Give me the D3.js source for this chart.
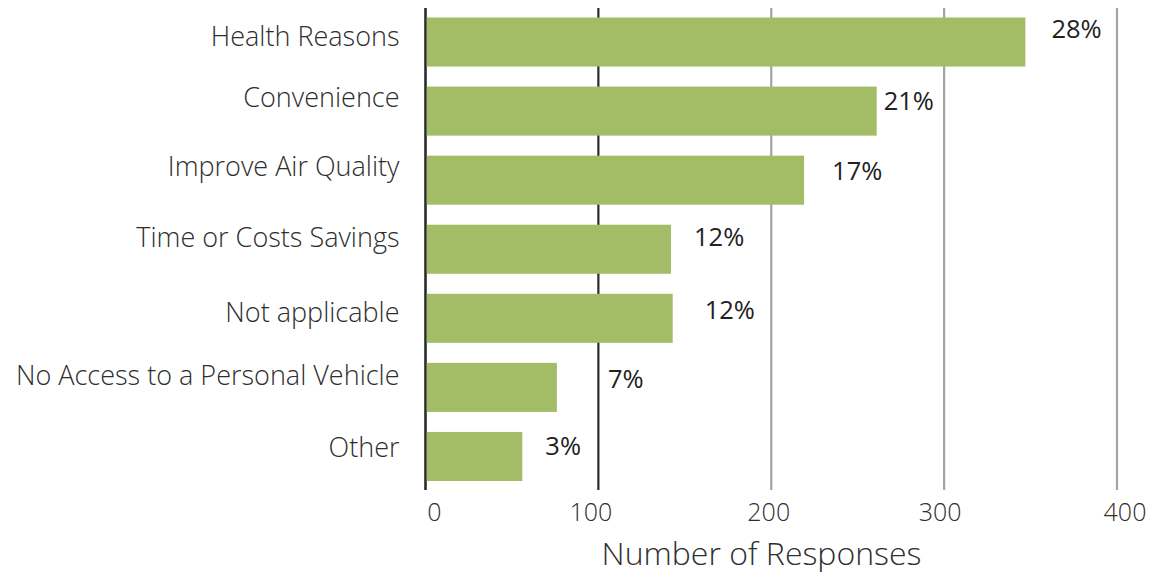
<!DOCTYPE html>
<html>
<head>
<meta charset="utf-8">
<script src="https://cdn.jsdelivr.net/npm/d3@7"></script>
<style>
  html, body { margin: 0; padding: 0; background: #fff; }
  svg { display: block; font-family: "Open Sans", Lato, sans-serif; }
</style>
</head>
<body>
<svg id="chart" width="1151" height="575"></svg>
<script>
// Reasons given, number of responses, and share of all responses
const categories = [
  "Health Reasons",
  "Convenience",
  "Improve Air Quality",
  "Time or Costs Savings",
  "Not applicable",
  "No Access to a Personal Vehicle",
  "Other"
];
const responses = [347, 261, 219, 142, 143, 76, 56];
const shares = ["28%", "21%", "17%", "12%", "12%", "7%", "3%"];
const xTicks = [0, 100, 200, 300, 400];
const xTitle = "Number of Responses";

// hand placement of text: share labels [dx from bar end, dy from band centre],
// category labels dy from band centre, tick labels dx from their grid line
const labelNudge = [[26, -4.5], [7, -1.5], [28, -0.5], [23, -3.5], [32, 0.5], [51, 0.5], [23, -1.5]];
const catNudge = [4, -4.5, -4, -2, 3.5, -2, 1];
const tickNudge = [9, -7.5, -2.5, -4, 8];

const svg = d3.select("#chart");
const plotLeft = 425.5, plotRight = 1117, plotTop = 8, plotBottom = 490;

const x = d3.scaleLinear().domain([0, 400]).range([plotLeft, plotRight]);
const y = d3.scaleBand().domain(categories)
  .range([plotTop - 0.5, plotBottom + 1])
  .paddingInner(0.29).paddingOuter(0.145);

// vertical grid lines; the first two are drawn darker
svg.append("g").selectAll("line").data(xTicks).join("line")
  .attr("x1", d => x(d)).attr("x2", d => x(d))
  .attr("y1", plotTop).attr("y2", plotBottom)
  .attr("stroke", (d, i) => i < 2 ? "#2b2b2b" : "#a3a3a3")
  .attr("stroke-width", (d, i) => i === 0 ? 2.6 : 2.2);

// bars
svg.append("g").selectAll("rect").data(categories).join("rect")
  .attr("x", x(0) + 1.3)
  .attr("y", d => y(d))
  .attr("width", (d, i) => x(responses[i]) - x(0) - 1.3)
  .attr("height", y.bandwidth())
  .attr("fill", "#a2bd65");

// category labels
svg.append("g").selectAll("text").data(categories).join("text")
  .attr("x", 399.5)
  .attr("y", (d, i) => y(d) + y.bandwidth() / 2 + catNudge[i])
  .attr("text-anchor", "end")
  .attr("font-size", 27)
  .attr("font-weight", 300)
  .attr("fill", "#2e2e2e")
  .text(d => d);

// share labels
svg.append("g").selectAll("text").data(categories).join("text")
  .attr("x", (d, i) => x(responses[i]) + labelNudge[i][0])
  .attr("y", (d, i) => y(d) + y.bandwidth() / 2 + labelNudge[i][1])
  .attr("font-size", 25.5)
  .attr("fill", "#222")
  .text((d, i) => shares[i]);

// x-axis tick labels
svg.append("g").selectAll("text").data(xTicks).join("text")
  .attr("x", (d, i) => x(d) + tickNudge[i])
  .attr("y", 521)
  .attr("text-anchor", "middle")
  .attr("font-size", 25)
  .attr("font-weight", 300)
  .attr("fill", "#2e2e2e")
  .text(d => d);

// axis title
svg.append("text")
  .attr("x", 761.5).attr("y", 565)
  .attr("text-anchor", "middle")
  .attr("font-size", 32)
  .attr("font-weight", 300)
  .attr("fill", "#2e2e2e")
  .text(xTitle);
</script>
</body>
</html>
